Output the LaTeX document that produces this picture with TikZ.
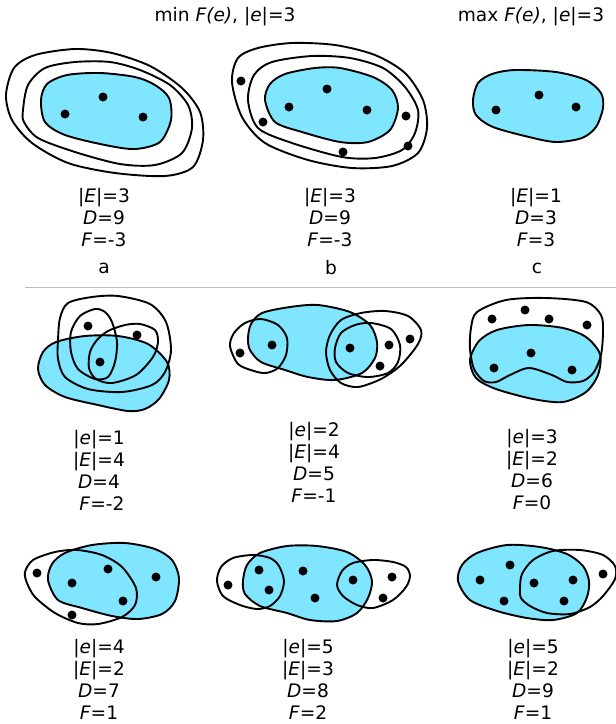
\documentclass[tikz,border=0pt]{standalone}
\usepackage{fontspec}
\setmainfont{DejaVu Sans}
\definecolor{cyanfill}{RGB}{128,229,255}
\definecolor{sepgray}{RGB}{190,190,190}
\tikzset{
  blob/.style={fill=cyanfill, draw=black, line width=1.9pt},
  ring/.style={draw=black, line width=1.9pt},
  lbl/.style={align=center, inner sep=0pt, font=\fontsize{18.6}{22}\selectfont},
}
\newcommand{\dotpt}[1]{\fill #1 circle[radius=4.5pt];}
\begin{document}
\begin{tikzpicture}[x=1pt,y=-1pt]
\useasboundingbox (0,0) rectangle (616,724);

% titles
\node[lbl] (tmin) at (225,17) {min \textit{F(e)}, |\textit{e}|=3};
\node[lbl] (tmax) at (531,17) {max \textit{F(e)}, |\textit{e}|=3};

% separator
\draw[sepgray, line width=1pt] (25,287) -- (616,287);

% ---------- panel a ----------
\path[blob] plot[smooth cycle] coordinates {(41,100) (47,84) (67,75) (100,73) (135,77) (155,85) (169,98) (171,120) (160,142) (135,149) (105,145) (65,135) (45,122)};
\draw[ring] plot[smooth cycle] coordinates {(23,110) (28,85) (45,68) (75,62) (110,62) (140,70) (170,85) (188,105) (192,128) (182,153) (155,165) (120,164) (75,152) (38,138) (24,122)};
\draw[ring] plot[smooth cycle] coordinates {(6,95) (14,68) (35,55) (75,49) (112,53) (150,66) (182,88) (200,112) (203,140) (193,167) (165,176) (115,173) (68,163) (32,143) (12,120)};
\dotpt{(103,97)} \dotpt{(65,114)} \dotpt{(143,117)}

% ---------- panel b ----------
\path[blob] plot[smooth cycle] coordinates {(265,100) (270,84) (285,74) (315,68) (340,68) (373,77) (392,90) (398,108) (390,130) (368,142) (340,142) (302,132) (275,122)};
\draw[ring] plot[smooth cycle] coordinates {(248,100) (254,75) (272,62) (312,56) (350,58) (383,68) (405,87) (418,110) (415,133) (402,150) (375,158) (342,157) (292,143) (258,128)};
\draw[ring] plot[smooth cycle] coordinates {(232,82) (238,58) (258,48) (292,43) (335,45) (375,55) (405,73) (423,100) (427,128) (418,153) (392,166) (352,168) (308,160) (265,143) (242,117)};
\dotpt{(327,89)} \dotpt{(289,107)} \dotpt{(367,110)} \dotpt{(241,81)} \dotpt{(263,122)} \dotpt{(406,116)} \dotpt{(408,146)} \dotpt{(343,152)}

% ---------- panel c ----------
\path[blob] plot[smooth cycle] coordinates {(473,100) (478,83) (492,74) (515,70) (556,72) (586,80) (601,93) (603,108) (596,127) (582,138) (556,142) (529,137) (493,127) (476,115)};
\dotpt{(539,95)} \dotpt{(496,110)} \dotpt{(576,107)}

% row 1 labels
\node[lbl] (la) at (104,218) {|\textit{E}|=3\\\textit{D}=9\\\textit{F}=-3};
\node[lbl] (lb) at (330,218) {|\textit{E}|=3\\\textit{D}=9\\\textit{F}=-3};
\node[lbl] (lc) at (536,218) {|\textit{E}|=1\\\textit{D}=3\\\textit{F}=3};
\node[lbl] (na) at (104,268) {a};
\node[lbl] (nb) at (331,268) {b};
\node[lbl] (nc) at (537,268) {c};

% ---------- panel d ----------
\path[blob] plot[smooth cycle] coordinates {(38,369) (43,352) (56,342) (85,336) (118,336) (148,344) (167,362) (169,380) (159,399) (145,409) (128,411) (98,405) (65,397) (45,385)};
\draw[ring] plot[smooth cycle] coordinates {(58,340) (60,318) (68,303) (92,297) (118,296) (150,304) (166,322) (171,350) (165,372) (152,385) (122,392) (88,389) (65,377) (58,359)};
\draw[ring] plot[smooth cycle] coordinates {(95,309) (80,316) (71,332) (71,352) (78,369) (95,379) (108,377) (115,362) (117,342) (112,322) (105,312)};
\draw[ring] plot[smooth cycle] coordinates {(97,340) (108,331) (125,325) (140,324) (155,330) (158,342) (153,357) (136,375) (112,383) (96,379) (89,368) (90,352)};
\dotpt{(88,326)} \dotpt{(137,335)} \dotpt{(100,362)}

% ---------- panel e ----------
\path[blob] plot[smooth cycle] coordinates {(248,338) (251,324) (262,313) (290,307) (318,305) (350,312) (370,325) (377,342) (375,358) (362,373) (335,380) (308,377) (285,370) (261,362) (250,350)};
\draw[ring] plot[smooth cycle] coordinates {(230,346) (234,333) (245,323) (261,319) (278,325) (287,338) (286,355) (278,368) (266,373) (254,371) (238,364)};
\draw[ring] plot[smooth cycle] coordinates {(326,352) (330,335) (341,320) (361,313) (385,311) (408,316) (421,330) (418,344) (401,365) (381,379) (358,387) (341,383) (330,370)};
\draw[ring] plot[smooth cycle] coordinates {(335,348) (341,333) (355,325) (371,323) (391,329) (400,345) (398,362) (388,373) (368,377) (348,373) (336,362)};
\dotpt{(272,345)} \dotpt{(240,353)} \dotpt{(350,348)} \dotpt{(389,345)} \dotpt{(410,339)} \dotpt{(380,366)}

% ---------- panel f ----------
\path[blob] plot[smooth cycle] coordinates {(470,360) (479,341) (497,330) (529,325) (563,328) (586,337) (600,354) (598,375) (586,392) (563,402) (533,399) (496,389) (476,378)};
\draw[ring] plot[smooth cycle] coordinates {(471,328) (477,312) (506,300) (546,298) (586,302) (601,315) (603,332) (601,355) (594,372) (583,381) (567,382) (552,375) (529,368) (510,375) (496,382) (484,381) (474,369) (470,349)};
\dotpt{(525,310)} \dotpt{(492,319)} \dotpt{(549,319)} \dotpt{(587,325)} \dotpt{(531,353)} \dotpt{(494,368)} \dotpt{(572,370)}

% row 2 labels
\node[lbl] (ld) at (99,470) {|\textit{e}|=1\\|\textit{E}|=4\\\textit{D}=4\\\ \textit{F}=-2};
\node[lbl] (le) at (314,462) {|\textit{e}|=2\\|\textit{E}|=4\\\textit{D}=5\\\textit{F}=-1};
\node[lbl] (lf) at (532,470) {|\textit{e}|=3\\|\textit{E}|=2\\\textit{D}=6\\\textit{F}=0};

% ---------- panel g ----------
\path[blob] plot[smooth cycle] coordinates {(48,580) (52,564) (65,553) (92,545) (125,543) (155,549) (172,560) (179,578) (175,601) (162,614) (138,619) (112,616) (82,608) (58,600)};
\draw[ring] plot[smooth cycle] coordinates {(25,572) (33,560) (55,552) (77,550) (102,555) (122,567) (136,588) (135,605) (122,617) (98,624) (78,623) (55,613) (35,597) (27,583)};
\dotpt{(37,573)} \dotpt{(72,583)} \dotpt{(108,569)} \dotpt{(156,577)} \dotpt{(123,601)} \dotpt{(72,615)}

% ---------- panel h ----------
\path[blob] plot[smooth cycle] coordinates {(243,581) (247,565) (260,553) (287,546) (317,546) (347,552) (365,565) (372,581) (368,598) (357,613) (337,621) (310,620) (287,613) (260,606) (245,594)};
\draw[ring] plot[smooth cycle] coordinates {(217,581) (221,567) (233,558) (253,555) (270,558) (279,566) (284,581) (280,596) (270,606) (257,609) (240,605) (223,596)};
\draw[ring] plot[smooth cycle] coordinates {(337,585) (342,571) (353,563) (373,560) (393,562) (406,567) (410,576) (406,587) (393,600) (373,608) (357,605) (343,596)};
\dotpt{(259,570)} \dotpt{(269,590)} \dotpt{(228,585)} \dotpt{(303,571)} \dotpt{(315,598)} \dotpt{(353,580)} \dotpt{(392,577)} \dotpt{(383,598)}

% ---------- panel i ----------
\path[blob] plot[smooth cycle] coordinates {(458,581) (462,565) (477,553) (507,545) (540,547) (567,554) (583,566) (589,581) (587,597) (577,613) (553,620) (527,618) (497,611) (470,600)};
\draw[ring] plot[smooth cycle] coordinates {(520,588) (522,574) (533,560) (553,551) (580,550) (603,555) (615,566) (615,579) (603,596) (590,607) (570,614) (547,613) (530,606) (521,598)};
\dotpt{(480,580)} \dotpt{(510,565)} \dotpt{(504,601)} \dotpt{(534,583)} \dotpt{(573,580)} \dotpt{(564,601)} \dotpt{(603,574)}

% row 3 labels
\node[lbl] (lg) at (99,679) {|\textit{e}|=4\\|\textit{E}|=2\\\textit{D}=7\\\textit{F}=1};
\node[lbl] (lh) at (308,679) {|\textit{e}|=5\\|\textit{E}|=3\\\textit{D}=8\\\textit{F}=2};
\node[lbl] (li) at (533,679) {|\textit{e}|=5\\|\textit{E}|=2\\\textit{D}=9\\\textit{F}=1};
\end{tikzpicture}
\end{document}
